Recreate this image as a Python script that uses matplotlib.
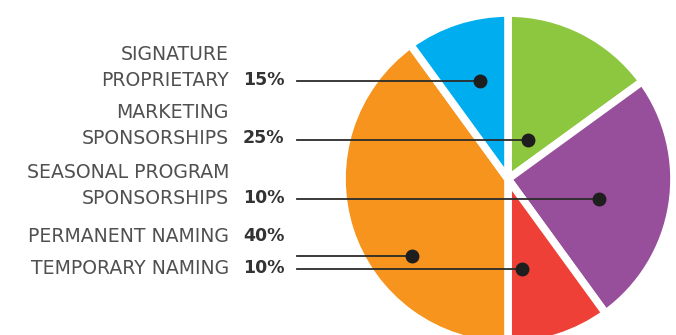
import matplotlib
matplotlib.use("Agg")
import matplotlib.pyplot as plt

# pie slices, clockwise from 12 o'clock
slice_sizes = [15, 25, 10, 40, 10]
slice_colors = ['#8DC63F', '#984F9B', '#EE4037', '#F7941E', '#00AEEF']

# label column (top to bottom)
label_lines = [['SIGNATURE', 'PROPRIETARY'],
               ['MARKETING', 'SPONSORSHIPS'],
               ['SEASONAL PROGRAM', 'SPONSORSHIPS'],
               ['PERMANENT NAMING'],
               ['TEMPORARY NAMING']]
label_pcts = ['15%', '25%', '10%', '40%', '10%']

# leader lines: pixel row of text, row of line, x of dot (layout only)
text_rows = [80, 138, 198, 236, 268]
line_rows = [81, 140, 199, 256, 269]
dot_x = [480, 528, 599, 412, 522]

W, H = 676, 335
fig = plt.figure(figsize=(W / 100, H / 100), dpi=100)
ax = fig.add_axes([0, 0, 1, 1])

cx, cy, r = 508, H - 179, 166
ax.pie(slice_sizes, colors=slice_colors, startangle=90, counterclock=False,
       center=(cx, cy), radius=r,
       wedgeprops=dict(edgecolor='white', linewidth=5.5))

for lines, pct, ty, ly, dx in zip(label_lines, label_pcts, text_rows, line_rows, dot_x):
    for k, s in enumerate(reversed(lines)):
        ax.text(229, H - ty + k * 25, s, ha='right', va='center',
                fontsize=13.6, color='#505050', family='DejaVu Sans')
    ax.text(243, H - ty, pct, ha='left', va='center', fontsize=12.5,
            fontweight='bold', color='#333333', family='DejaVu Sans')
    ax.plot([297, dx], [H - ly, H - ly], color='#2b2b2b', lw=1.3, zorder=3)
    ax.plot(dx, H - ly, 'o', color='#1e1e1e', ms=9, zorder=4)

ax.set_xlim(0, W)
ax.set_ylim(0, H)
ax.set_aspect('auto')
ax.axis('off')

fig.savefig('out.png', dpi=100, facecolor='white')
